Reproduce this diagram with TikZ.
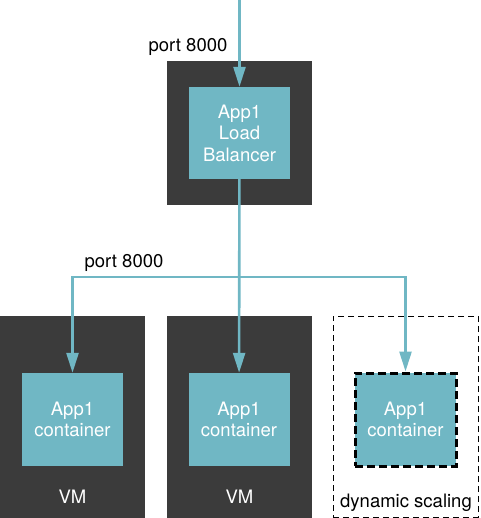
\documentclass[tikz,border=0pt]{standalone}
\usepackage{fontspec}
\setmainfont{TeX Gyre Heros}
\usetikzlibrary{arrows.meta, positioning}

\definecolor{vmgray}{RGB}{59,59,59}
\definecolor{appteal}{RGB}{112,183,196}

\begin{document}
\begin{tikzpicture}[
    x=1pt, y=-1pt,
    vmbox/.style={rectangle, fill=vmgray, inner sep=0pt},
    appbox/.style={rectangle, fill=appteal, text=white, inner sep=0pt, minimum width=101pt, minimum height=93pt, align=center, font=\fontsize{18.5}{21.5}\selectfont},
    scalebox/.style={rectangle, draw=black, dashed, dash pattern=on 6pt off 4pt, line width=1pt, inner sep=0pt, minimum width=145pt, minimum height=201pt},
    vmtext/.style={text=white, font=\fontsize{18.5}{21.5}\selectfont},
    note/.style={text=black, font=\fontsize{18.5}{21.5}\selectfont},
    flow/.style={draw=appteal, line width=2.6pt, -{Triangle[width=12pt, length=20pt]}}
]

\useasboundingbox (0,0) rectangle (480,518);

% load balancer on its own VM
\node[vmbox, minimum width=145pt, minimum height=144pt] (lbvm) at (239.5,133) {};
\node[appbox, minimum height=92pt] (lb) at (239.5,133) {App1\\Load\\Balancer};

% worker VMs
\node[vmbox, minimum width=145pt, minimum height=202pt] (vm1) at (72.5,417) {};
\node[vmbox, minimum width=145pt, minimum height=202pt] (vm2) at (239.5,417) {};
\node[scalebox] (dyn) at (405.5,416.5) {};

\node[appbox] (c1) at (72.5,419.5) {App1\\container};
\node[appbox] (c2) at (239,419.5) {App1\\container};
\node[appbox, draw=black, line width=3pt, dash pattern=on 8pt off 4pt] (c3) at (405.5,419.5) {App1\\container};

\node[vmtext] (vm1label) at (72.5,497) {VM};
\node[vmtext] (vm2label) at (239.5,497) {VM};
\node[note] (dynlabel) at (406,503) {dynamic scaling};

\node[note] (porttop) at (188,47) {port 8000};
\node[note] (portmid) at (124,263) {port 8000};

% traffic
\coordinate (entry) at (239.5,0);
\coordinate (split) at (239.5,277);

\draw[flow] (entry) -- (lb);
\draw[flow] (lb) -- (c2);
\draw[flow] (split) -| (c1);
\draw[flow] (split) -| (c3);

\end{tikzpicture}
\end{document}
